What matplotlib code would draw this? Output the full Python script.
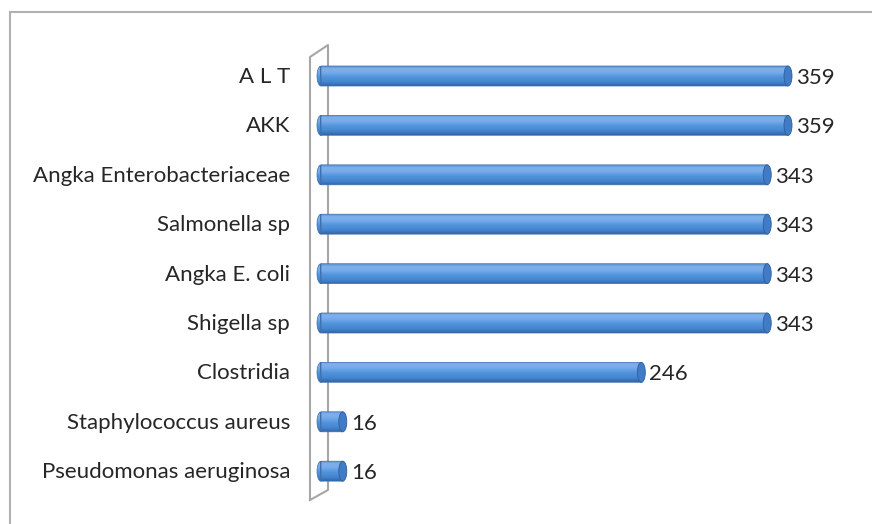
import numpy as np
import matplotlib.pyplot as plt
from matplotlib.patches import Ellipse, PathPatch
from matplotlib.path import Path
from matplotlib.colors import LinearSegmentedColormap

plt.rcParams['font.family'] = ['Lato', 'DejaVu Sans']

categories = ["A L T", "AKK", "Angka Enterobacteriaceae", "Salmonella sp",
              "Angka E. coli", "Shigella sp", "Clostridia",
              "Staphylococcus aureus", "Pseudomonas aeruginosa"]
values = [359, 359, 343, 343, 343, 343, 246, 16, 16]

W, H = 872, 524
fig = plt.figure(figsize=(W / 100, H / 100), dpi=100)

# overlay in pixel coords for frame + 3d wall
bg = fig.add_axes([0, 0, 1, 1])
bg.set_xlim(0, W)
bg.set_ylim(H, 0)
bg.axis('off')
bg.plot([10, 10], [H, 12], color='#b0b0b0', lw=1.5)
bg.plot([10, W], [12, 12], color='#b0b0b0', lw=1.5)
wall = '#a6a6a6'
bg.plot([310, 310, 328, 328, 310], [500, 57, 45, 490, 500], color=wall, lw=1.5)

# data axes: x=0 at px 322, 359 at px 788
px_per = (788 - 322) / 359.0
xmin, xmax = -20, 400
ax_left = 322 + xmin * px_per
ax_w = (xmax - xmin) * px_per
top_px, bot_px = 45, 500
step, first = 49.4, 76
y_top = (top_px - first) / step
y_bot = (bot_px - first) / step
ax = fig.add_axes([ax_left / W, (H - bot_px) / H, ax_w / W, (bot_px - top_px) / H])
ax.set_xlim(xmin, xmax)
ax.set_ylim(y_bot, y_top)
ax.axis('off')

cmap = LinearSegmentedColormap.from_list(
    'cyl', [(0, '#5a8fcf'), (0.12, '#7fb0e8'), (0.3, '#79aceb'),
            (0.55, '#5294dc'), (0.8, '#4585d0'), (1, '#3465a6')])
grad = np.linspace(0, 1, 64).reshape(-1, 1)

bh = 20 / step          # bar height in category units
cap = 8 / px_per        # cap width in data units
x0 = -5 / px_per

for i, (lab, v) in enumerate(zip(categories, values)):
    y0, y1 = i - bh / 2, i + bh / 2
    # body path with rounded left end
    xc = x0 + cap / 2
    t = np.linspace(np.pi / 2, 3 * np.pi / 2, 24)
    arc = [(xc + cap / 2 * np.cos(a), i - bh / 2 * np.sin(a)) for a in t]
    verts = [(xc, y0), (v, y0), (v, y1), (xc, y1)] + arc[1:] + [(xc, y0)]
    path = Path(verts)
    patch = PathPatch(path, facecolor='none', edgecolor='none')
    ax.add_patch(patch)
    im = ax.imshow(grad, cmap=cmap, aspect='auto', extent=[x0, v, y1, y0],
                   zorder=2, interpolation='bilinear')
    im.set_clip_path(patch)
    ax.add_patch(PathPatch(path, facecolor='none', edgecolor='#3d6fae',
                           lw=0.5, zorder=3))
    ax.add_patch(Ellipse((v, i), cap, bh, facecolor='#3f7bc6',
                         edgecolor='#2f5f9a', lw=0.6, zorder=4))
    ax.text(v + 8 / px_per, i + 0.04, str(v), va='center', ha='left',
            fontsize=16, color='#262626')
    ax.text(290, first + step * i + 1, lab, va='center', ha='right',
            fontsize=16, color='#262626', transform=bg.transData)

fig.savefig('out.png', dpi=100)
